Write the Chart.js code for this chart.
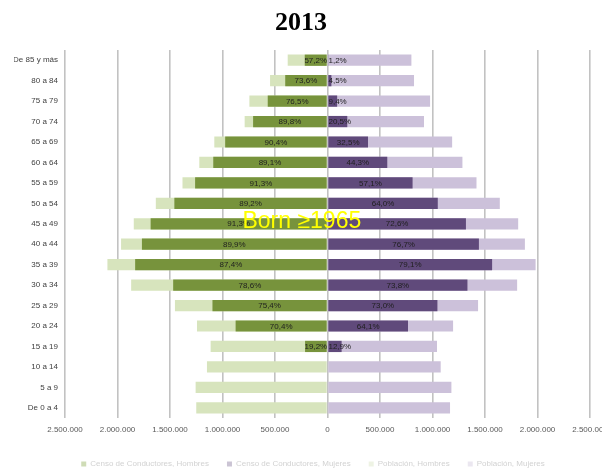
<!DOCTYPE html>
<html>
<head>
<meta charset="utf-8">
<script src="https://cdn.jsdelivr.net/npm/chart.js@4"></script>
<style>
    html, body { margin: 0; padding: 0; background: #fff; }
</style>
</head>
<body>
<canvas id="piramide" width="602" height="469"></canvas>
<script>
const titulo = "2013";
const nota = "Born \u22651965";

const grupos = [
    "De 85 y más", "80 a 84", "75 a 79", "70 a 74", "65 a 69", "60 a 64",
    "55 a 59", "50 a 54", "45 a 49", "40 a 44", "35 a 39", "30 a 34",
    "25 a 29", "20 a 24", "15 a 19", "10 a 14", "5 a 9", "De 0 a 4"
];

// poblacion por grupo de edad
const poblacionHombres = [
    379000, 547000, 744000, 789000, 1078000, 1221000,
    1381000, 1635000, 1845000, 1966000, 2096000, 1870000,
    1453000, 1243000, 1113000, 1148000, 1256000, 1250000
];
const poblacionMujeres = [
    799000, 824000, 977000, 919000, 1187000, 1285000,
    1419000, 1641000, 1816000, 1880000, 1982000, 1806000,
    1434000, 1196000, 1043000, 1078000, 1180000, 1167000
];

// % de la poblacion con permiso de conducir
const pctHombres = [
    57.2, 73.6, 76.5, 89.8, 90.4, 89.1,
    91.3, 89.2, 91.3, 89.9, 87.4, 78.6,
    75.4, 70.4, 19.2, null, null, null
];
const pctMujeres = [
    1.2, 4.5, 9.4, 20.5, 32.5, 44.3,
    57.1, 64.0, 72.6, 76.7, 79.1, 73.8,
    73.0, 64.1, 12.9, null, null, null
];

const marcasEje = [
    -2500000, -2000000, -1500000, -1000000, -500000, 0,
    500000, 1000000, 1500000, 2000000, 2500000
];

const fuente = '"Liberation Sans", Arial, sans-serif';

function conductores(pob, pct) {
    return pob.map((p, i) => pct[i] == null ? null : Math.round(p * pct[i] / 100));
}

function miles(v) {
    return String(v).replace(/\B(?=(\d{3})+(?!\d))/g, ".");
}

const colores = ["#77933c", "#604a7b", "#d7e4bd", "#ccc1da"];
const coloresLeyenda = ["#cfdcb6", "#cbc4d4", "#eef3e4", "#ebe7f0"];

// porcentajes dentro de las barras de conductores
const etiquetasPct = {
    id: "etiquetasPct",
    afterDatasetsDraw(chart) {
        const ctx = chart.ctx;
        const cero = chart.scales.x.getPixelForValue(0);
        ctx.save();
        ctx.font = "8px " + fuente;
        ctx.fillStyle = "#1f1f1f";
        ctx.textAlign = "center";
        ctx.textBaseline = "middle";
        [[0, pctHombres, -1], [1, pctMujeres, 1]].forEach(([d, pcts, lado]) => {
            chart.getDatasetMeta(d).data.forEach((barra, i) => {
                if (pcts[i] == null) return;
                const txt = pcts[i].toFixed(1).replace(".", ",") + "%";
                const w = ctx.measureText(txt).width;
                let x = (barra.x + barra.base) / 2;
                if (lado > 0) x = Math.max(x, cero + w / 2 + 1);
                else x = Math.min(x, cero - w / 2);
                ctx.fillText(txt, x, barra.y + 0.5);
            });
        });
        ctx.restore();
    }
};

// titulo y nota amarilla
const rotulos = {
    id: "rotulos",
    afterDraw(chart) {
        const ctx = chart.ctx;
        const { x, y } = chart.scales;
        ctx.save();
        ctx.font = 'bold 26px "Liberation Serif", "Times New Roman", serif';
        ctx.fillStyle = "#000";
        ctx.textAlign = "center";
        ctx.textBaseline = "alphabetic";
        ctx.fillText(titulo, chart.width / 2, 30);
        ctx.font = "23px " + fuente;
        ctx.fillStyle = "#ffff00";
        ctx.textAlign = "left";
        ctx.fillText(nota, x.getPixelForValue(-810000), y.getPixelForValue(8) + 4);
        ctx.restore();
    }
};

const conductoresHombres = conductores(poblacionHombres, pctHombres);
const conductoresMujeres = conductores(poblacionMujeres, pctMujeres);

const series = [
    { label: "Censo de Conductores, Hombres", data: conductoresHombres.map(v => v == null ? null : -v) },
    { label: "Censo de Conductores, Mujeres", data: conductoresMujeres },
    { label: "Población, Hombres", data: poblacionHombres.map(v => -v) },
    { label: "Población, Mujeres", data: poblacionMujeres }
];

new Chart(document.getElementById("piramide").getContext("2d"), {
    type: "bar",
    data: {
        labels: grupos,
        datasets: series.map((s, i) => ({
            label: s.label,
            data: s.data,
            backgroundColor: colores[i],
            borderWidth: 0,
            grouped: false,
            barPercentage: 0.55,
            categoryPercentage: 1
        }))
    },
    options: {
        indexAxis: "y",
        responsive: false,
        devicePixelRatio: 1,
        animation: false,
        events: [],
        layout: {
            // la leyenda queda algo a la derecha del centro
            padding: { left: 14, right: -10, top: 50, bottom: -9 },
            autoPadding: false
        },
        scales: {
            x: {
                min: -2500000,
                max: 2500000,
                afterBuildTicks: s => { s.ticks = marcasEje.map(v => ({ value: v })); },
                afterFit: s => { s.height = 24; s.paddingLeft = 0; s.paddingRight = 0; },
                grid: { color: "#c2c2c2", lineWidth: 1.6, drawTicks: false },
                border: { display: false },
                ticks: {
                    padding: 7,
                    color: "#595959",
                    font: { size: 8, family: fuente },
                    maxRotation: 0,
                    autoSkip: false,
                    callback: v => miles(Math.abs(v))
                }
            },
            y: {
                afterFit: s => { s.width = 51; },
                grid: { display: false, drawTicks: false },
                border: { display: false },
                ticks: {
                    padding: 7,
                    color: "#404040",
                    font: { size: 8, family: fuente },
                    autoSkip: false
                }
            },
            // margen derecho vacio
            margen: {
                type: "category",
                axis: "y",
                position: "right",
                afterFit: s => { s.width = 22; },
                grid: { display: false, drawTicks: false },
                border: { display: false },
                ticks: { display: false }
            }
        },
        plugins: {
            tooltip: { enabled: false },
            legend: {
                position: "bottom",
                labels: {
                    boxWidth: 5,
                    boxHeight: 5,
                    padding: 18,
                    color: "#d2d2d2",
                    font: { size: 8, family: fuente },
                    generateLabels: chart =>
                        Chart.defaults.plugins.legend.labels.generateLabels(chart).map(l =>
                            Object.assign(l, {
                                fillStyle: coloresLeyenda[l.datasetIndex],
                                strokeStyle: coloresLeyenda[l.datasetIndex],
                                lineWidth: 0
                            }))
                }
            }
        }
    },
    plugins: [etiquetasPct, rotulos]
});
</script>
</body>
</html>
